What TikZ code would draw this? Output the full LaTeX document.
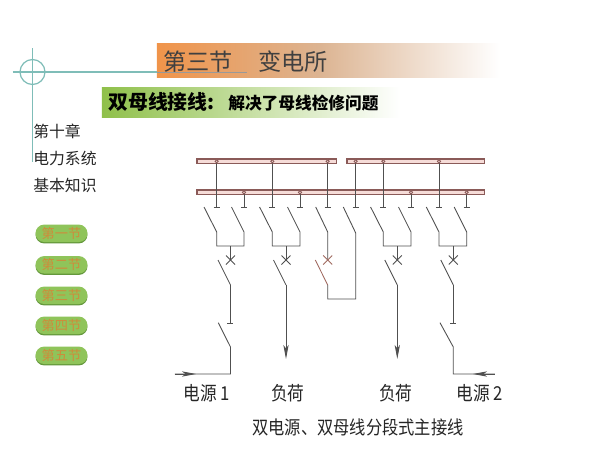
\documentclass[tikz,border=0pt]{standalone}
\usepackage{fontspec}
\setmainfont{Noto Sans CJK SC}
\usetikzlibrary{arrows.meta}
\definecolor{wire}{HTML}{505050}
\definecolor{busline}{HTML}{8a5a58}
\definecolor{busfill}{HTML}{f6dcd8}
\definecolor{faded}{HTML}{a06a60}
\definecolor{guide}{HTML}{7fbdb8}
\definecolor{headorange}{HTML}{f0944a}
\definecolor{headtan}{HTML}{dcb492}
\definecolor{barGreen}{HTML}{8fc04a}
\definecolor{pillgreen}{HTML}{8fc45a}
\definecolor{pilledge}{HTML}{64983c}
\definecolor{pilltext}{HTML}{d08a3a}
\tikzset{
  wireline/.style={draw=wire, line width=0.5pt},
  busbar/.style={draw=busline, fill=busfill, line width=0.6pt},
  taphole/.style={draw=busline, fill=busfill, line width=0.5pt},
  loadarrow/.style={wireline, -{Stealth[length=8pt, width=3pt, inset=2pt]}},
  sidetext/.style={anchor=west, text=black!85, font=\fontsize{9}{9}\selectfont},
  pilltag/.style={rounded corners=5pt, minimum width=1.04cm, minimum height=0.35cm, inner sep=0pt,
    fill=pillgreen, text=pilltext, font=\fontsize{7.5}{7.5}\selectfont},
  pillunder/.style={rounded corners=5pt, minimum width=1.04cm, minimum height=0.35cm, inner sep=0pt,
    fill=pilledge},
  lowlabel/.style={text=black!85, inner sep=0pt, font=\fontsize{9.5}{9.5}\selectfont},
}
\begin{document}
\begin{tikzpicture}[x=0.02cm, y=-0.02cm]
  \useasboundingbox[fill=white] (0,0) rectangle (600,450);

  % Heading bands
  \shade[left color=headorange, right color=headtan] (157,43) rectangle (320,77);
  \shade[left color=headtan, right color=white] (320,43) rectangle (500,77);
  \shade[left color=barGreen, right color=white] (102,87) rectangle (400,117);
  \node[anchor=west, inner sep=0pt, text=black!75, font=\fontsize{13.2}{13.2}\selectfont] (headtitle) at (163,62) {第三节\hspace{1.1em}变电所};
  \node[anchor=west, inner sep=0pt, font=\fontsize{11.3}{11.3}\bfseries] (bartitle) at (108,102) {双母线接线:};
  \node[anchor=west, inner sep=0pt, font=\fontsize{9.5}{9.5}\bfseries] (barsub) at (228,103) {解决了母线检修问题};

  % Guide cross and circle
  \draw[guide, line width=0.7pt] (13,72) -- (157,72);
  \draw[black!40, line width=0.3pt] (157,72) -- (247,72);
  \draw[guide, line width=0.7pt] (32.5,48) -- (32.5,162);
  \draw[guide, line width=0.7pt] (32.5,72) circle (0.25cm);

  % Side menu
  \node[sidetext, inner sep=0pt] (chapter) at (33,131) {第十章};
  \node[sidetext, inner sep=0pt] (subjecta) at (33,158) {电力系统};
  \node[sidetext, inner sep=0pt] (subjectb) at (33,185) {基本知识};
  \foreach \ypos/\tag in {234/一, 265.5/二, 296/三, 326/四, 356/五} {
    \node[pillunder] (under\tag) at (61.5,\ypos+0.7) {};
    \node[pilltag] (pill\tag) at (61.5,\ypos-0.7) {第\tag 节};
  }

  % Bus bars
  \draw[busbar] (197,159) rectangle (336.7,163.7);
  \draw[busbar] (347,159) rectangle (484.7,163.7);
  \draw[busbar] (197,190) rectangle (484.7,194.7);

  % Taps from the upper bus
  \foreach \x in {216.7,272.3,327.7,355.7,383.3,439} {
    \draw[wireline] (\x,161.3) -- (\x,207);
    \draw[wireline] (\x-3,207) -- (\x+3,207);
    \draw[taphole] (\x,161.3) circle (0.9pt);
  }
  % Taps from the lower bus
  \foreach \x in {244,300,411,466.7} {
    \draw[wireline] (\x,192.3) -- (\x,207);
    \draw[wireline] (\x-3,207) -- (\x+3,207);
    \draw[taphole] (\x,192.3) circle (0.9pt);
  }

  % Feeder bays: upper tap, lower tap, middle
  \foreach \xa/\xb/\xm in {216.7/244/230.5, 272.3/300/286, 383.3/411/397.3, 439/466.7/453.3} {
    \draw[wireline] (\xa-12.7,207) -- (\xa,232) -- (\xa,246) -- (\xb,246) -- (\xb,232) -- (\xb-12.5,207);
    \draw[wireline] (\xm,246) -- (\xm,260);
    \draw[wireline] (\xm-4.5,255.5) -- (\xm+4.5,264.5);
    \draw[wireline] (\xm-4.5,264.5) -- (\xm+4.5,255.5);
    \draw[wireline] (\xm-12.5,260) -- (\xm,285);
  }

  % Sources
  \draw[wireline] (230.5,285) -- (230.5,323);
  \draw[wireline] (227.5,323) -- (233.5,323);
  \draw[wireline] (218.3,322.7) -- (230.5,347) -- (230.5,374) -- (175,374);
  \draw[wireline, -{Stealth[length=8pt, width=3pt, inset=2pt]}] (175,374) -- (196,374);
  \draw[wireline] (453.3,285) -- (453.3,323);
  \draw[wireline] (450.3,323) -- (456.3,323);
  \draw[wireline] (440,322.7) -- (453.3,347) -- (453.3,374) -- (495,374);
  \draw[wireline, -{Stealth[length=8pt, width=3pt, inset=2pt]}] (495,374) -- (473,374);

  % Loads
  \draw[loadarrow] (286,285) -- (286,359);
  \draw[loadarrow] (397.3,285) -- (397.3,359);

  % Bus coupler
  \draw[wireline] (315.7,207) -- (327.7,232) -- (327.7,260);
  \draw[faded, line width=0.5pt] (323.2,255.5) -- (332.2,264.5);
  \draw[faded, line width=0.5pt] (323.2,264.5) -- (332.2,255.5);
  \draw[faded, line width=0.5pt] (315.3,260) -- (327.7,285);
  \draw[wireline] (327.7,285) -- (327.7,299) -- (355.7,299) -- (355.7,233) -- (343.3,207);

  % Labels
  \node[lowlabel] (sourcea) at (207,393) {\scalebox{1}[1.15]{电源 1}};
  \node[lowlabel] (loada) at (287.7,393) {\scalebox{1}[1.15]{负荷}};
  \node[lowlabel] (loadb) at (396,393) {\scalebox{1}[1.15]{负荷}};
  \node[lowlabel] (sourceb) at (480,393) {\scalebox{1}[1.15]{电源 2}};
  \node[lowlabel, font=\fontsize{9.25}{9.25}\selectfont] (caption) at (358,427) {\scalebox{1}[1.15]{双电源、双母线分段式主接线}};
\end{tikzpicture}
\end{document}
